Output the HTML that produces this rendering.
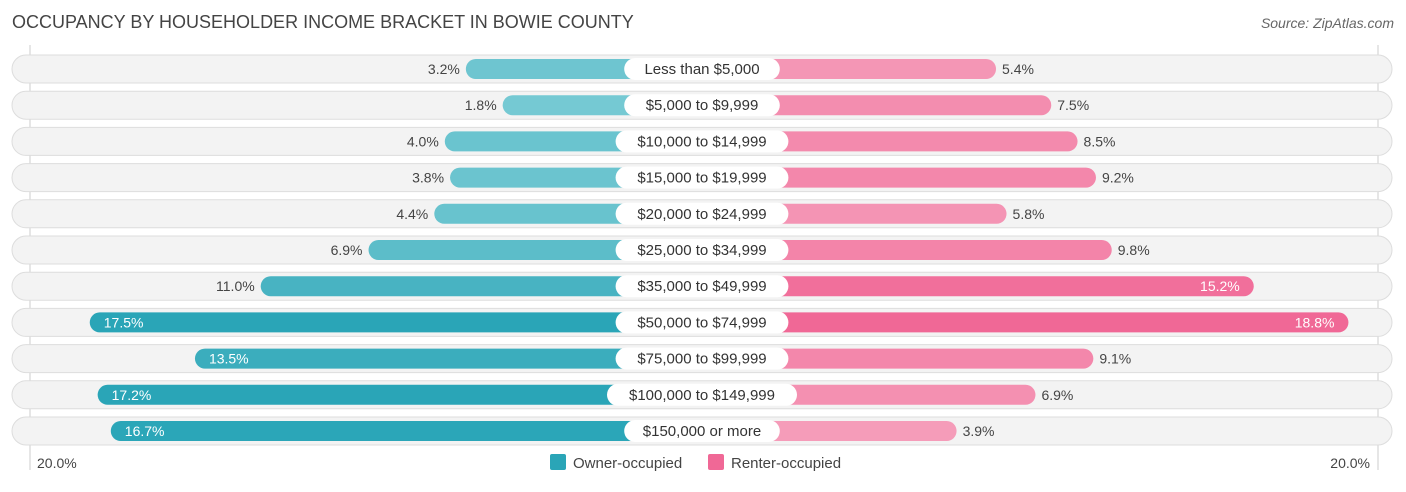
<!DOCTYPE html>
<html><head><meta charset="utf-8"><style>
body{margin:0;background:#fff;font-family:"Liberation Sans",sans-serif;}
svg text{font-family:"Liberation Sans",sans-serif;}
</style></head><body>
<svg width="1406" height="487">
<text x="12" y="28" font-size="18" fill="#444">OCCUPANCY BY HOUSEHOLDER INCOME BRACKET IN BOWIE COUNTY</text>
<text x="1394" y="28" font-size="14" fill="#666" font-style="italic" text-anchor="end">Source: ZipAtlas.com</text>
<line x1="30" y1="45" x2="30" y2="470" stroke="#ccc"/>
<line x1="1378" y1="45" x2="1378" y2="470" stroke="#ccc"/>
<g id="rows"></g>
<text x="37" y="468" font-size="14" fill="#444">20.0%</text>
<text x="1370" y="468" font-size="14" fill="#444" text-anchor="end">20.0%</text>
<rect x="550" y="454" width="16" height="16" rx="2" fill="#2aa5b7"/>
<text x="573" y="468" font-size="15" fill="#444">Owner-occupied</text>
<rect x="708" y="454" width="16" height="16" rx="2" fill="#f06896"/>
<text x="731" y="468" font-size="15" fill="#444">Renter-occupied</text>
</svg>
<script>
const categories=["Less than $5,000","$5,000 to $9,999","$10,000 to $14,999","$15,000 to $19,999","$20,000 to $24,999","$25,000 to $34,999","$35,000 to $49,999","$50,000 to $74,999","$75,000 to $99,999","$100,000 to $149,999","$150,000 or more"];
const owner=[3.2,1.8,4.0,3.8,4.4,6.9,11.0,17.5,13.5,17.2,16.7];
const renter=[5.4,7.5,8.5,9.2,5.8,9.8,15.2,18.8,9.1,6.9,3.9];
const CX=702,OFF=152,K=26.3,Y0=69,DY=36.2;
function xs(v){return OFF+v*K;}
function yc(i){return Y0+i*DY;}
function mix(a,b,t){const p=s=>[1,3,5].map(j=>parseInt(s.substr(j,2),16));const A=p(a),B=p(b);return "rgb("+A.map((x,j)=>Math.round(x+(B[j]-x)*t)).join(",")+")";}
const NS="http://www.w3.org/2000/svg";
const g=document.getElementById('rows');
function el(t,a,parent){const e=document.createElementNS(NS,t);for(const k in a)e.setAttribute(k,a[k]);(parent||g).appendChild(e);return e;}
categories.forEach((c,i)=>{
const y=yc(i);
const bg=el('rect',{x:12,y:y-14,width:1380,height:28,rx:14,fill:'#f3f3f3',stroke:'#ddd'});


const ow=xs(owner[i]);
const to=Math.min(1,owner[i]/17);
const ob=el('rect',{x:CX-ow,y:y-10,width:ow,height:20,rx:10,fill:mix('#7ecdd6','#2aa5b7',to)});


const rw=xs(renter[i]);
const tr=Math.min(1,renter[i]/17);
const rb=el('rect',{x:CX,y:y-10,width:rw,height:20,rx:10,fill:mix('#f6abc3','#f06896',tr)});


const inO=owner[i]>=12;
const ot=el('text',{x:inO?CX-ow+14:CX-ow-6,y:y+5,'font-size':14,fill:inO?'#fff':'#444','text-anchor':inO?'start':'end'});
ot.textContent=owner[i].toFixed(1)+'%';


const inR=renter[i]>=12;
const rt=el('text',{x:inR?CX+rw-14:CX+rw+6,y:y+5,'font-size':14,fill:inR?'#fff':'#444','text-anchor':inR?'end':'start'});
rt.textContent=renter[i].toFixed(1)+'%';


const w=c.length*8.6+18;
const lb=el('rect',{x:CX-w/2,y:y-11,width:w,height:22,rx:11,fill:'#fff'});


const lt=el('text',{x:CX,y:y+5,'font-size':15,fill:'#333','text-anchor':'middle'});
lt.textContent=c;


});
</script>
</body></html>
